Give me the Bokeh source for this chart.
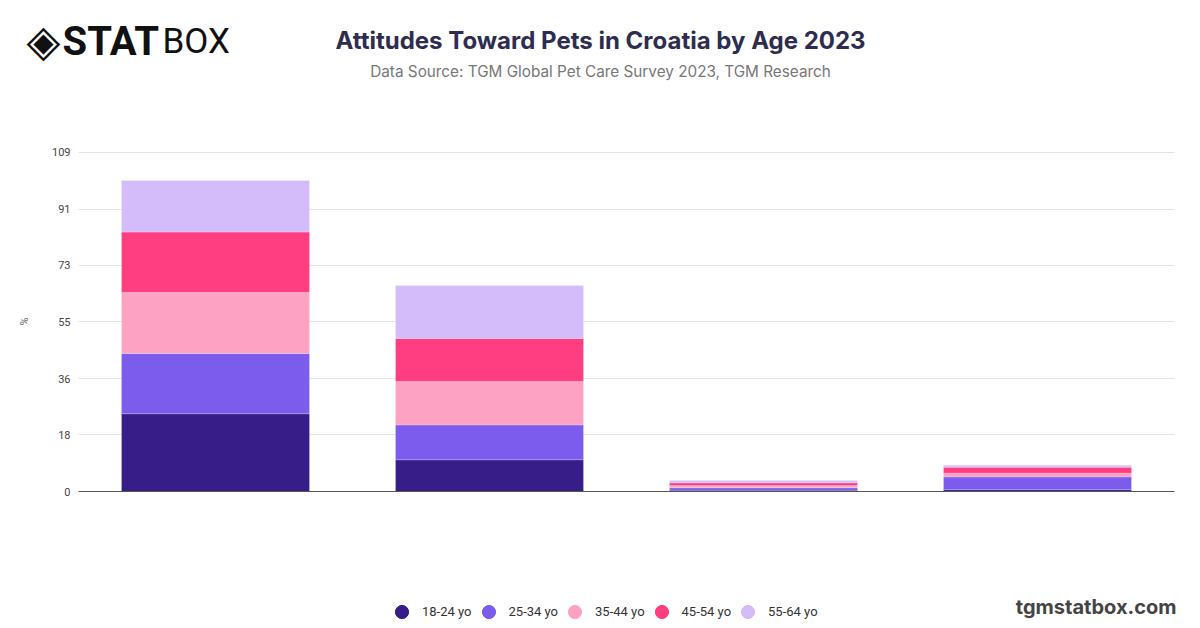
from bokeh.plotting import figure
from bokeh.layouts import column
from bokeh.models import Range1d, FixedTicker, Label, Legend, LegendItem, ColumnDataSource
from bokeh.embed import file_html
from bokeh.resources import INLINE

# ---- data ----
categories = ["Attitude 1", "Attitude 2", "Attitude 3", "Attitude 4"]
age_groups = ["18-24 yo", "25-34 yo", "35-44 yo", "45-54 yo", "55-64 yo"]
v_18_24 = [25.0, 10.2, 0.4, 0.6]
v_25_34 = [19.4, 11.2, 0.8, 4.1]
v_35_44 = [19.6, 14.0, 0.7, 1.2]
v_45_54 = [19.4, 13.8, 0.9, 1.9]
v_55_64 = [16.6, 17.0, 0.7, 0.6]
colors = ["#371d87", "#7b5ced", "#fda2c3", "#fe3e80", "#d4bcfb"]
y_ticks = [0, 18.17, 36.33, 54.5, 72.67, 90.83, 109]
y_tick_labels = ["0", "18", "36", "55", "73", "91", "109"]

W = 1184
keys = ["a18_24", "a25_34", "a35_44", "a45_54", "a55_64"]
src = ColumnDataSource(dict(cat=categories, a18_24=v_18_24, a25_34=v_25_34,
                            a35_44=v_35_44, a45_54=v_45_54, a55_64=v_55_64))

# ---- header (pixel coordinates, y downwards) ----
head = figure(width=W, height=120, x_range=Range1d(0, W), y_range=Range1d(120, 0),
              x_axis_type=None, y_axis_type=None, output_backend="svg",
              toolbar_location=None, min_border=0, frame_align=False)
head.outline_line_color = None
head.add_layout(Label(x=600, y=40, text="Attitudes Toward Pets in Croatia by Age 2023",
                      text_align="center", text_baseline="middle",
                      text_font="Inter", text_font_style="bold", text_font_size="24px",
                      text_color="#2e2c4f"))
head.add_layout(Label(x=600, y=71,
                      text="Data Source: TGM Global Pet Care Survey 2023, TGM Research",
                      text_align="center", text_baseline="middle",
                      text_font="Inter", text_font_size="15.3px", text_color="#777777"))
head.add_layout(Label(x=43, y=40, text="\u25c8", text_align="center", text_baseline="middle",
                      text_font="DejaVu Sans", text_font_size="44px", text_color="#111111"))
head.add_layout(Label(x=62, y=41, text="STAT", text_align="left", text_baseline="middle",
                      text_font="Roboto", text_font_style="bold", text_font_size="40px",
                      text_color="#111111"))
head.add_layout(Label(x=162, y=41, text="BOX", text_align="left", text_baseline="middle",
                      text_font="Roboto", text_font_size="35px", text_color="#111111"))

# ---- main chart ----
p = figure(x_range=categories, y_range=Range1d(0, 109.32), width=W, height=420,
           output_backend="svg", toolbar_location=None, frame_align=False,
           min_border_left=78, min_border_right=W - 78 - 1096,
           min_border_top=31, min_border_bottom=420 - 31 - 340)
p.outline_line_color = None
p.vbar_stack(keys, x="cat", width=0.686, color=colors, source=src,
             line_color="white", line_alpha=0.2, line_width=1)

p.xgrid.grid_line_color = None
p.ygrid.grid_line_color = "#e4e4e4"
p.ygrid.grid_line_width = 1
p.xaxis.axis_line_color = "#555555"
p.xaxis.major_tick_line_color = None
p.xaxis.minor_tick_line_color = None
p.xaxis.major_label_text_color = None

p.yaxis.ticker = FixedTicker(ticks=y_ticks)
p.yaxis.major_label_overrides = {t: l for t, l in zip(y_ticks, y_tick_labels)}
p.yaxis.axis_line_color = None
p.yaxis.major_tick_line_color = None
p.yaxis.minor_tick_line_color = None
p.yaxis.major_tick_out = 0
p.yaxis.major_tick_in = 0
p.yaxis.major_label_standoff = 8
p.yaxis.major_label_text_font = "Roboto"
p.yaxis.major_label_text_font_size = "11px"
p.yaxis.major_label_text_color = "#444444"
p.yaxis.axis_label = "%"
p.yaxis.axis_label_text_font = "Roboto"
p.yaxis.axis_label_text_font_style = "normal"
p.yaxis.axis_label_text_font_size = "11px"
p.yaxis.axis_label_text_color = "#666666"
p.yaxis.axis_label_standoff = 18

# ---- footer (pixel coordinates of the page, y downwards) ----
foot = figure(width=W, height=80, x_range=Range1d(0, W), y_range=Range1d(620, 540),
              x_axis_type=None, y_axis_type=None, output_backend="svg",
              toolbar_location=None, min_border=0, frame_align=False)
foot.outline_line_color = None
items = []
for lab, c in zip(age_groups, colors):
    # off-canvas placeholder point: only its legend swatch is visible
    r = foot.scatter(x=[-500], y=[-500], marker="circle", color=c)
    items.append(LegendItem(label=lab, renderers=[r]))
legend = Legend(items=items, orientation="horizontal", location=(385, -7.5),
                glyph_width=33, glyph_height=33, label_standoff=4, spacing=-5,
                padding=0, margin=0, border_line_color=None, background_fill_alpha=0,
                label_text_font="Roboto", label_text_font_size="13px",
                label_text_color="#333333")
foot.add_layout(legend)
foot.add_layout(Label(x=1176, y=606, text="tgmstatbox.com", text_align="right",
                      text_baseline="middle", text_font="Inter", text_font_style="bold",
                      text_font_size="20px", text_color="#444444"))

layout = column(head, p, foot, spacing=0)
open("out.html", "w").write(file_html(layout, INLINE))
